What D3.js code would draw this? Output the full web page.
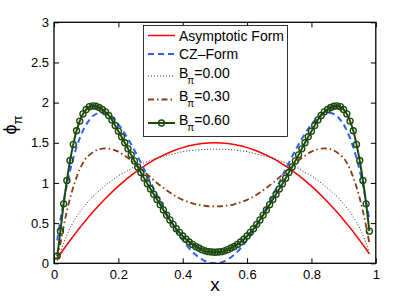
<!DOCTYPE html>
<html><head><meta charset="utf-8">
<script src="https://cdn.jsdelivr.net/npm/d3@7"></script>
<style>body{margin:0;background:#fff}svg{display:block}text{font-family:"Liberation Sans",Arial,Helvetica,sans-serif}</style>
</head><body>
<script>
// ---- data ----
const xTicks = [0, 0.2, 0.4, 0.6, 0.8, 1];
const xTickLabels = ["0", "0.2", "0.4", "0.6", "0.8", "1"];
const yTicks = [0, 0.5, 1, 1.5, 2, 2.5, 3];
const yTickLabels = ["0", "0.5", "1", "1.5", "2", "2.5", "3"];

// sample positions for the plain curves
const xGrid = [...d3.range(1, 11).map(i => i / 100), ...d3.range(12, 90, 2).map(i => i / 100), ...d3.range(90, 99).map(i => i / 100)];
const asymptotic = [.059,.118,.175,.230,.285,.338,.391,.442,.491,.540,.634,.722,.806,.886,.960,1.030,1.094,1.154,1.210,1.260,1.306,1.346,1.382,1.414,1.440,1.462,1.478,1.490,1.498,1.500,
  1.498,1.490,1.478,1.462,1.440,1.414,1.382,1.346,1.306,1.260,1.210,1.154,1.094,1.030,.960,.886,.806,.722,.634,.540,.491,.442,.391,.338,.285,.230,.175,.118];
const czForm = [.285,.542,.771,.975,1.154,1.310,1.444,1.558,1.652,1.728,1.830,1.872,1.864,1.814,1.728,1.614,1.480,1.330,1.171,1.008,.846,.689,.542,.407,.288,.187,.106,.048,.012,0,
  .012,.048,.106,.187,.288,.407,.542,.689,.846,1.008,1.171,1.330,1.480,1.614,1.728,1.814,1.864,1.872,1.830,1.728,1.652,1.558,1.444,1.310,1.154,.975,.771,.542];
const b000 = [.03,.13,.25,.35,.44,.51,.58,.64,.69,.74,.83,.90,.97,1.03,1.09,1.13,1.18,1.22,1.25,1.28,1.31,1.33,1.35,1.37,1.39,1.40,1.41,1.415,1.42,1.42,
  1.42,1.415,1.41,1.40,1.39,1.37,1.35,1.33,1.31,1.28,1.25,1.22,1.18,1.13,1.09,1.03,.97,.90,.83,.74,.69,.64,.58,.51,.44,.35,.25,.13];
const b030 = [.06,.25,.46,.65,.81,.95,1.07,1.17,1.25,1.31,1.38,1.42,1.43,1.42,1.39,1.34,1.28,1.21,1.14,1.07,1.00,.94,.88,.83,.79,.76,.735,.72,.71,.71,
  .71,.72,.735,.76,.79,.83,.88,.94,1.00,1.07,1.14,1.21,1.28,1.34,1.39,1.42,1.43,1.42,1.38,1.31,1.25,1.17,1.07,.95,.81,.65,.46,.25];
// marker curve sampled every 0.01
const xGreen = d3.range(1, 99).map(i => i / 100);
const b060 = [.09,.40,.74,1.03,1.28,1.48,1.65,1.77,1.86,1.915,1.95,1.96,1.955,1.94,1.915,1.885,1.84,1.785,1.715,1.645,1.575,1.50,1.425,1.35,1.275,1.20,1.13,1.06,.99,.925,
  .86,.795,.73,.665,.60,.54,.485,.43,.385,.34,.30,.265,.235,.21,.19,.17,.155,.145,.14,.138,
  .14,.145,.155,.17,.19,.21,.235,.265,.30,.34,.385,.43,.485,.54,.60,.665,.73,.795,.86,.925,.99,1.06,1.13,1.20,1.275,1.35,1.425,1.50,1.575,1.645,1.715,1.785,1.84,1.885,1.915,1.94,1.955,1.96,1.95,1.915,1.86,1.77,1.65,1.48,1.28,1.03,.74,.40];

const seriesNames = ["Asymptotic Form", "CZ\u2013Form", "0.00", "0.30", "0.60"];

// ---- drawing ----
const W = 415, H = 296;
const svg = d3.select("body").append("svg").attr("width", W).attr("height", H);
svg.append("rect").attr("width", W).attr("height", H).attr("fill", "#fff");

const x = d3.scaleLinear().domain([0, 1]).range([54, 375.8]);
const y = d3.scaleLinear().domain([0, 3]).range([263.3, 22.3]);

svg.append("defs").append("clipPath").attr("id", "clip").append("rect")
  .attr("x", 54).attr("y", 22.3).attr("width", 321.8).attr("height", 241);

const styles = [
  {color: "#ff0000", width: 1.5, dash: null},
  {color: "#2f5fff", width: 2, dash: "6,4"},
  {color: "#333", width: 1, dash: "1,2"},
  {color: "#8a3a10", width: 1.8, dash: "6,3,1.5,3"},
  {color: "#1b4a0c", width: 2, dash: null}
];

const line = d3.line().x(d => x(d[0])).y(d => y(d[1])).curve(d3.curveCatmullRom.alpha(0.5));
const plot = svg.append("g").attr("clip-path", "url(#clip)");
const data = [
  d3.zip(xGrid, asymptotic), d3.zip(xGrid, czForm), d3.zip(xGrid, b000), d3.zip(xGrid, b030), d3.zip(xGreen, b060)
];
data.forEach((d, i) => {
  plot.append("path").datum(d).attr("d", line).attr("fill", "none")
    .attr("stroke", styles[i].color).attr("stroke-width", styles[i].width)
    .attr("stroke-dasharray", styles[i].dash);
});
plot.append("g").selectAll("circle").data(data[4]).join("circle")
  .attr("cx", d => x(d[0])).attr("cy", d => y(d[1])).attr("r", 3)
  .attr("fill", "none").attr("stroke", styles[4].color).attr("stroke-width", 1.4);

// axes
const fs = 13;
const axB = svg.append("g").attr("transform", `translate(0,${y(0)})`)
  .call(d3.axisBottom(x).tickValues(xTicks).tickFormat((d, i) => xTickLabels[i]).tickSizeInner(-5).tickSizeOuter(0).tickPadding(6));
const axT = svg.append("g").attr("transform", `translate(0,${y(3)})`)
  .call(d3.axisTop(x).tickValues(xTicks).tickFormat("").tickSizeInner(-5).tickSizeOuter(0));
const axL = svg.append("g").attr("transform", `translate(${x(0)},0)`)
  .call(d3.axisLeft(y).tickValues(yTicks).tickFormat((d, i) => yTickLabels[i]).tickSizeInner(-5).tickSizeOuter(0).tickPadding(5));
const axR = svg.append("g").attr("transform", `translate(${x(1)},0)`)
  .call(d3.axisRight(y).tickValues(yTicks).tickFormat("").tickSizeInner(-5).tickSizeOuter(0));
[axB, axT, axL, axR].forEach(a => {
  a.select(".domain").remove();
  a.selectAll("line").attr("stroke", "#000").attr("stroke-width", 1);
  a.selectAll("text").attr("font-size", fs).attr("fill", "#000").style("font-family", '"Liberation Sans",Arial,sans-serif');
});
svg.append("rect").attr("x", x(0)).attr("y", y(3)).attr("width", x(1) - x(0)).attr("height", y(0) - y(3))
  .attr("fill", "none").attr("stroke", "#000").attr("stroke-width", 1.3);

// axis titles
svg.append("text").attr("x", 215).attr("y", 291).attr("text-anchor", "middle").attr("font-size", 19).text("x");
const yl = svg.append("text").attr("transform", "translate(16,125) rotate(-90)").attr("text-anchor", "middle").attr("font-size", 18);
yl.append("tspan").text("\u03d5");
yl.append("tspan").attr("dy", 6).attr("font-size", 13).text("\u03c0");

// legend
const lg = svg.append("g");
lg.append("rect").attr("x", 143.5).attr("y", 25.5).attr("width", 144).attr("height", 111)
  .attr("fill", "#fff").attr("stroke", "#000").attr("stroke-width", 0.8);
const rowY = [35.5, 54, 76, 99.5, 123];
seriesNames.forEach((name, i) => {
  const ly = rowY[i];
  lg.append("line").attr("x1", 148).attr("x2", 175).attr("y1", ly).attr("y2", ly)
    .attr("stroke", styles[i].color).attr("stroke-width", styles[i].width).attr("stroke-dasharray", styles[i].dash);
  if (i === 4) lg.append("circle").attr("cx", 161.5).attr("cy", ly).attr("r", 3).attr("fill", "none")
    .attr("stroke", styles[4].color).attr("stroke-width", 1.4);
  const t = lg.append("text").attr("x", 179).attr("font-size", 14);
  if (i < 2) {
    t.attr("y", ly + 5).text(name);
  } else {
    t.attr("y", ly + 1.5);
    t.append("tspan").text("B");
    t.append("tspan").attr("dy", 6).attr("dx", -1).attr("font-size", 10).text("\u03c0");
    t.append("tspan").attr("dy", -6).text("=" + name);
  }
});
</script>
</body></html>
